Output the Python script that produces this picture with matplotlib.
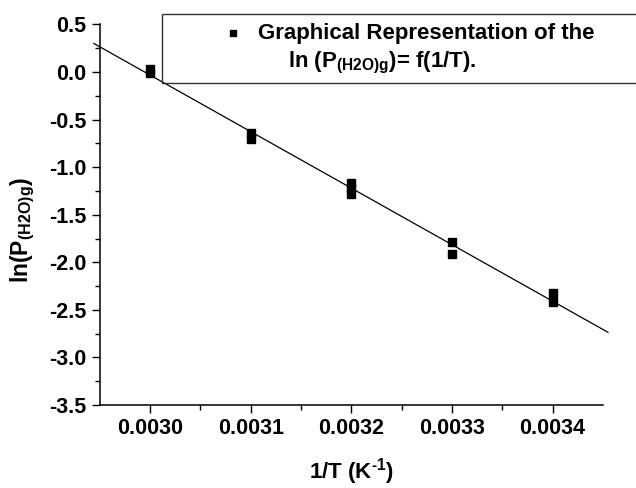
import numpy as np
import matplotlib
matplotlib.use("Agg")
from matplotlib import pyplot as plt
from matplotlib.patches import Rectangle
from matplotlib.lines import Line2D

plt.rcParams['font.family'] = ['Liberation Sans', 'DejaVu Sans']
plt.rcParams['font.weight'] = 'bold'
plt.rcParams['mathtext.default'] = 'regular'

# data
inv_T = [0.0030, 0.0030, 0.0031, 0.0031, 0.0032, 0.0032, 0.0032,
         0.0033, 0.0033, 0.0034, 0.0034]
ln_p = [0.03, -0.01, -0.64, -0.70, -1.17, -1.22, -1.28,
        -1.79, -1.91, -2.32, -2.42]
x_ticks = [0.0030, 0.0031, 0.0032, 0.0033, 0.0034]
y_ticks = [0.5, 0.0, -0.5, -1.0, -1.5, -2.0, -2.5, -3.0, -3.5]

fig = plt.figure(figsize=(6.36, 4.88), dpi=100)
ax = fig.add_axes([0.157, 0.170, 0.791, 0.780])

ax.plot(inv_T, ln_p, 's', color='black', ms=5.2, clip_on=False, zorder=3)

# linear fit
a, b = np.polyfit(inv_T, ln_p, 1)
xf = np.array([0.002944, 0.003455])
ax.plot(xf, a * xf + b, color='black', lw=0.9, clip_on=False)

ax.set_xlim(0.00295, 0.00345)
ax.set_ylim(-3.5, 0.5)
ax.set_xticks(x_ticks)
ax.set_xticklabels(['%.4f' % v for v in x_ticks])
ax.set_xticks(np.array(x_ticks[:-1]) + 0.00005, minor=True)
ax.set_yticks(y_ticks)
ax.set_yticklabels(['%.1f' % v for v in y_ticks])
ax.set_yticks(np.array(y_ticks[1:]) + 0.25, minor=True)
ax.tick_params(axis='both', which='major', length=6, width=1, labelsize=15.5)
ax.tick_params(axis='both', which='minor', length=3.5, width=1)

for s in ['top', 'right']:
    ax.spines[s].set_visible(False)
for s in ['left', 'bottom']:
    ax.spines[s].set_linewidth(1.1)

ax.set_xlabel('1/T (K$^{\u20101}$)', fontsize=16, fontweight='bold', labelpad=12)
ax.set_ylabel('ln(P$_{(H2O)g}$)', fontsize=16.5, fontweight='bold')
ax.yaxis.set_label_coords(-0.125, 0.46)

# legend box
fig.patches.append(Rectangle((0.254, 0.830), 0.76, 0.141, transform=fig.transFigure,
                             fill=False, edgecolor='#333333', lw=1.0, clip_on=False))
fig.lines.append(Line2D([0.366], [0.932], transform=fig.transFigure, marker='s',
                        color='black', ms=5, ls='none'))
fig.text(0.406, 0.932, 'Graphical Representation of the', fontsize=16,
         fontweight='bold', va='center', ha='left')
fig.text(0.453, 0.870, 'ln (P$_{(H2O)g}$)= f(1/T).', fontsize=16,
         fontweight='bold', va='center', ha='left')

fig.savefig('out.png', dpi=100)
